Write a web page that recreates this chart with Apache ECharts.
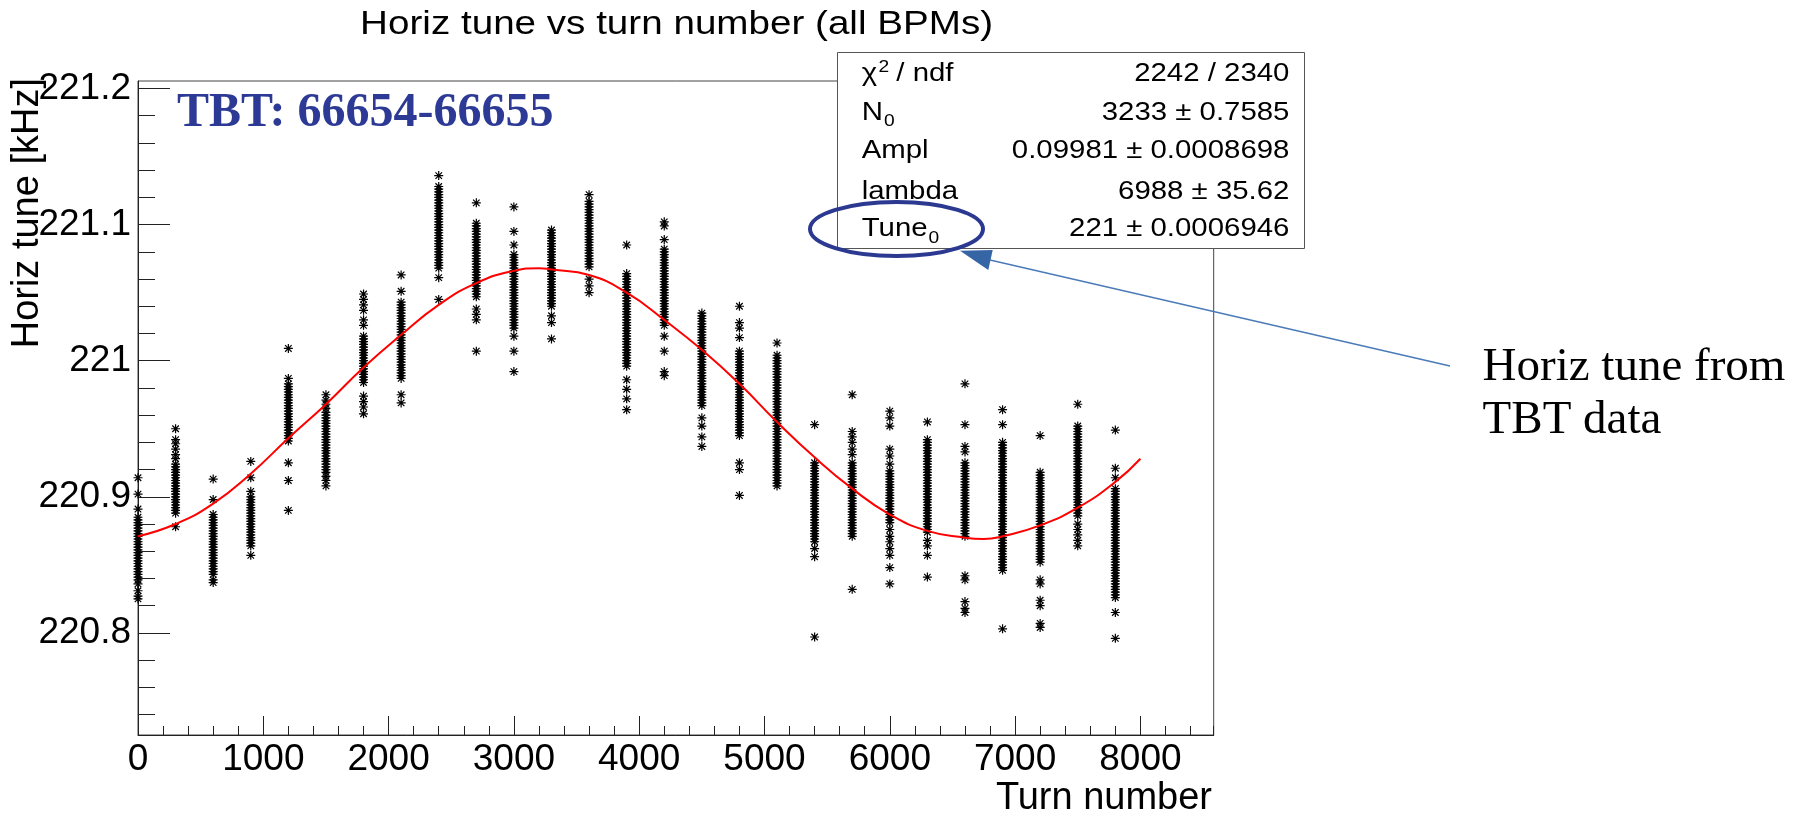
<!DOCTYPE html>
<html>
<head>
<meta charset="utf-8">
<title>Horiz tune vs turn number (all BPMs)</title>
<script src="https://cdn.jsdelivr.net/npm/echarts@6/dist/echarts.min.js"></script>
<style>
  html, body { margin: 0; padding: 0; background: #fff; }
  #chart { width: 1802px; height: 819px; }
</style>
</head>
<body>
<div id="chart"></div>
<script>
// Turn numbers at which the tune was sampled
const groupTurns = [0, 300, 600, 900, 1200, 1500, 1800, 2100, 2400, 2700, 3000, 3300, 3600,
  3900, 4200, 4500, 4800, 5100, 5400, 5700, 6000, 6300, 6600, 6900, 7200, 7500, 7800];

// Horizontal tune [kHz] seen by the BPMs at each sampled turn
const tune0 = [220.914, 220.902, 220.891, 220.885, 220.883, 220.881, 220.879, 220.877, 220.875, 220.873, 220.871, 220.869, 220.867, 220.865, 220.863, 220.861, 220.859, 220.857, 220.855, 220.853, 220.851, 220.849, 220.847, 220.845, 220.843, 220.841, 220.839, 220.836, 220.831, 220.827, 220.825];
const tune300 = [220.950, 220.942, 220.939, 220.935, 220.931, 220.928, 220.924, 220.922, 220.920, 220.918, 220.916, 220.914, 220.912, 220.910, 220.908, 220.906, 220.904, 220.902, 220.900, 220.898, 220.896, 220.894, 220.892, 220.890, 220.888, 220.878];
const tune600 = [220.913, 220.898, 220.887, 220.885, 220.883, 220.881, 220.879, 220.877, 220.875, 220.873, 220.871, 220.869, 220.867, 220.865, 220.863, 220.861, 220.859, 220.857, 220.855, 220.853, 220.851, 220.849, 220.847, 220.845, 220.843, 220.839, 220.837];
const tune900 = [220.926, 220.914, 220.904, 220.900, 220.898, 220.896, 220.894, 220.892, 220.890, 220.888, 220.886, 220.884, 220.882, 220.880, 220.878, 220.876, 220.874, 220.872, 220.870, 220.868, 220.866, 220.864, 220.857];
const tune1200 = [221.009, 220.987, 220.983, 220.981, 220.979, 220.977, 220.975, 220.973, 220.971, 220.969, 220.967, 220.965, 220.963, 220.961, 220.959, 220.957, 220.955, 220.953, 220.951, 220.949, 220.947, 220.945, 220.943, 220.941, 220.925, 220.912, 220.890];
const tune1500 = [220.975, 220.971, 220.968, 220.965, 220.962, 220.960, 220.958, 220.956, 220.954, 220.952, 220.950, 220.948, 220.946, 220.944, 220.942, 220.940, 220.938, 220.936, 220.934, 220.932, 220.930, 220.928, 220.926, 220.924, 220.922, 220.920, 220.918, 220.915, 220.912, 220.908];
const tune1800 = [221.049, 221.045, 221.041, 221.037, 221.030, 221.026, 221.018, 221.016, 221.014, 221.012, 221.010, 221.008, 221.006, 221.004, 221.002, 221.000, 220.998, 220.996, 220.994, 220.992, 220.990, 220.988, 220.986, 220.984, 220.974, 220.970, 220.966, 220.961];
const tune2100 = [221.063, 221.051, 221.043, 221.041, 221.039, 221.037, 221.035, 221.033, 221.031, 221.029, 221.027, 221.025, 221.023, 221.021, 221.019, 221.017, 221.015, 221.013, 221.011, 221.009, 221.007, 221.005, 221.003, 221.001, 220.999, 220.997, 220.995, 220.993, 220.991, 220.989, 220.987, 220.975, 220.969];
const tune2400 = [221.136, 221.128, 221.126, 221.124, 221.122, 221.120, 221.118, 221.116, 221.114, 221.112, 221.110, 221.108, 221.106, 221.104, 221.102, 221.100, 221.098, 221.096, 221.094, 221.092, 221.090, 221.088, 221.086, 221.084, 221.082, 221.080, 221.078, 221.076, 221.074, 221.072, 221.070, 221.068, 221.061, 221.045];
const tune2700 = [221.116, 221.101, 221.099, 221.097, 221.095, 221.093, 221.091, 221.089, 221.087, 221.085, 221.083, 221.081, 221.079, 221.077, 221.075, 221.073, 221.071, 221.069, 221.067, 221.065, 221.063, 221.061, 221.059, 221.057, 221.055, 221.053, 221.051, 221.049, 221.047, 221.038, 221.034, 221.030, 221.007];
const tune3000 = [221.113, 221.095, 221.085, 221.078, 221.076, 221.074, 221.072, 221.070, 221.068, 221.066, 221.064, 221.062, 221.060, 221.058, 221.056, 221.054, 221.052, 221.050, 221.048, 221.046, 221.044, 221.042, 221.040, 221.038, 221.036, 221.034, 221.032, 221.030, 221.028, 221.026, 221.024, 221.018, 221.007, 220.992];
const tune3300 = [221.096, 221.094, 221.092, 221.090, 221.088, 221.086, 221.084, 221.082, 221.080, 221.078, 221.076, 221.074, 221.072, 221.070, 221.068, 221.066, 221.064, 221.062, 221.060, 221.058, 221.056, 221.054, 221.052, 221.050, 221.048, 221.046, 221.044, 221.042, 221.040, 221.033, 221.028, 221.016];
const tune3600 = [221.122, 221.117, 221.115, 221.113, 221.111, 221.109, 221.107, 221.105, 221.103, 221.101, 221.099, 221.097, 221.095, 221.093, 221.091, 221.089, 221.087, 221.085, 221.083, 221.081, 221.079, 221.077, 221.075, 221.073, 221.071, 221.069, 221.060, 221.055, 221.050];
const tune3900 = [221.085, 221.064, 221.062, 221.060, 221.058, 221.056, 221.054, 221.052, 221.050, 221.048, 221.046, 221.044, 221.042, 221.040, 221.038, 221.036, 221.034, 221.032, 221.030, 221.028, 221.026, 221.024, 221.022, 221.020, 221.018, 221.016, 221.014, 221.012, 221.010, 221.008, 221.006, 221.004, 221.002, 221.000, 220.998, 220.996, 220.986, 220.979, 220.972, 220.964];
const tune4200 = [221.102, 221.099, 221.089, 221.082, 221.080, 221.078, 221.076, 221.074, 221.072, 221.070, 221.068, 221.066, 221.064, 221.062, 221.060, 221.058, 221.056, 221.054, 221.052, 221.050, 221.048, 221.046, 221.044, 221.042, 221.040, 221.038, 221.036, 221.034, 221.032, 221.030, 221.028, 221.026, 221.018, 221.007, 220.992, 220.989];
const tune4500 = [221.035, 221.033, 221.031, 221.029, 221.027, 221.025, 221.023, 221.021, 221.019, 221.017, 221.015, 221.013, 221.011, 221.009, 221.007, 221.005, 221.003, 221.001, 220.999, 220.997, 220.995, 220.993, 220.991, 220.989, 220.987, 220.985, 220.983, 220.981, 220.979, 220.977, 220.975, 220.973, 220.971, 220.969, 220.967, 220.958, 220.952, 220.944, 220.937];
const tune4800 = [221.040, 221.028, 221.024, 221.017, 221.007, 221.005, 221.003, 221.001, 220.999, 220.997, 220.995, 220.993, 220.991, 220.989, 220.987, 220.985, 220.983, 220.981, 220.979, 220.977, 220.975, 220.973, 220.971, 220.969, 220.967, 220.965, 220.963, 220.961, 220.959, 220.957, 220.955, 220.953, 220.951, 220.949, 220.947, 220.945, 220.925, 220.920, 220.901];
const tune5100 = [221.013, 221.004, 221.002, 221.000, 220.998, 220.996, 220.994, 220.992, 220.990, 220.988, 220.986, 220.984, 220.982, 220.980, 220.978, 220.976, 220.974, 220.972, 220.970, 220.968, 220.966, 220.964, 220.962, 220.960, 220.958, 220.956, 220.954, 220.952, 220.950, 220.948, 220.946, 220.944, 220.942, 220.940, 220.938, 220.936, 220.934, 220.932, 220.930, 220.928, 220.926, 220.924, 220.922, 220.920, 220.918, 220.916, 220.914, 220.912, 220.910, 220.908];
const tune5400 = [220.953, 220.925, 220.923, 220.921, 220.919, 220.917, 220.915, 220.913, 220.911, 220.909, 220.907, 220.905, 220.903, 220.901, 220.899, 220.897, 220.895, 220.893, 220.891, 220.889, 220.887, 220.885, 220.883, 220.881, 220.879, 220.877, 220.875, 220.873, 220.871, 220.869, 220.867, 220.862, 220.856, 220.797];
const tune5700 = [220.975, 220.948, 220.944, 220.940, 220.935, 220.931, 220.925, 220.923, 220.921, 220.919, 220.917, 220.915, 220.913, 220.911, 220.909, 220.907, 220.905, 220.903, 220.901, 220.899, 220.897, 220.895, 220.893, 220.891, 220.889, 220.887, 220.885, 220.883, 220.881, 220.879, 220.877, 220.875, 220.873, 220.871, 220.832];
const tune6000 = [220.963, 220.958, 220.952, 220.935, 220.930, 220.924, 220.919, 220.917, 220.915, 220.913, 220.911, 220.909, 220.907, 220.905, 220.903, 220.901, 220.899, 220.897, 220.895, 220.893, 220.891, 220.889, 220.887, 220.885, 220.883, 220.881, 220.876, 220.871, 220.867, 220.862, 220.857, 220.848, 220.836];
const tune6300 = [220.955, 220.942, 220.940, 220.938, 220.936, 220.934, 220.932, 220.930, 220.928, 220.926, 220.924, 220.922, 220.920, 220.918, 220.916, 220.914, 220.912, 220.910, 220.908, 220.906, 220.904, 220.902, 220.900, 220.898, 220.896, 220.894, 220.892, 220.890, 220.888, 220.886, 220.884, 220.882, 220.880, 220.878, 220.876, 220.874, 220.868, 220.864, 220.857, 220.841];
const tune6600 = [220.983, 220.953, 220.937, 220.933, 220.925, 220.923, 220.921, 220.919, 220.917, 220.915, 220.913, 220.911, 220.909, 220.907, 220.905, 220.903, 220.901, 220.899, 220.897, 220.895, 220.893, 220.891, 220.889, 220.887, 220.885, 220.883, 220.881, 220.879, 220.877, 220.875, 220.873, 220.871, 220.842, 220.839, 220.823, 220.818, 220.815];
const tune6900 = [220.964, 220.953, 220.940, 220.938, 220.936, 220.934, 220.932, 220.930, 220.928, 220.926, 220.924, 220.922, 220.920, 220.918, 220.916, 220.914, 220.912, 220.910, 220.908, 220.906, 220.904, 220.902, 220.900, 220.898, 220.896, 220.894, 220.892, 220.890, 220.888, 220.886, 220.884, 220.882, 220.880, 220.878, 220.876, 220.874, 220.872, 220.870, 220.868, 220.866, 220.864, 220.862, 220.860, 220.858, 220.856, 220.854, 220.852, 220.850, 220.848, 220.846, 220.803];
const tune7200 = [220.945, 220.918, 220.916, 220.914, 220.912, 220.910, 220.908, 220.906, 220.904, 220.902, 220.900, 220.898, 220.896, 220.894, 220.892, 220.890, 220.888, 220.886, 220.884, 220.882, 220.880, 220.878, 220.876, 220.874, 220.872, 220.870, 220.868, 220.866, 220.864, 220.862, 220.860, 220.858, 220.856, 220.854, 220.852, 220.839, 220.836, 220.824, 220.820, 220.807, 220.804];
const tune7500 = [220.968, 220.952, 220.950, 220.948, 220.946, 220.944, 220.942, 220.940, 220.938, 220.936, 220.934, 220.932, 220.930, 220.928, 220.926, 220.924, 220.922, 220.920, 220.918, 220.916, 220.914, 220.912, 220.910, 220.908, 220.906, 220.904, 220.902, 220.900, 220.898, 220.896, 220.894, 220.892, 220.890, 220.888, 220.886, 220.880, 220.876, 220.872, 220.868, 220.864];
const tune7800 = [220.949, 220.921, 220.914, 220.906, 220.904, 220.902, 220.900, 220.898, 220.896, 220.894, 220.892, 220.890, 220.888, 220.886, 220.884, 220.882, 220.880, 220.878, 220.876, 220.874, 220.872, 220.870, 220.868, 220.866, 220.864, 220.862, 220.860, 220.858, 220.856, 220.854, 220.852, 220.850, 220.848, 220.846, 220.844, 220.842, 220.840, 220.838, 220.836, 220.834, 220.832, 220.830, 220.828, 220.826, 220.815, 220.796];

const groupTunes = [tune0, tune300, tune600, tune900, tune1200, tune1500, tune1800, tune2100,
  tune2400, tune2700, tune3000, tune3300, tune3600, tune3900, tune4200, tune4500, tune4800,
  tune5100, tune5400, tune5700, tune6000, tune6300, tune6600, tune6900, tune7200, tune7500, tune7800];

// Fitted tune oscillation, sampled along the turn axis
const fitTurns = [0, 300, 600, 900, 1200, 1500, 1800, 2100, 2400, 2700, 3000, 3200, 3300, 3600, 3900,
  4200, 4500, 4800, 5100, 5400, 5700, 6000, 6300, 6600, 6750, 6900, 7200, 7500, 7800, 8000];
const fitTune = [220.871, 220.880, 220.895, 220.917, 220.943, 220.968, 220.995, 221.019, 221.041, 221.057,
  221.066, 221.068, 221.067, 221.063, 221.050, 221.030, 221.008, 220.983, 220.955, 220.929, 220.906,
  220.887, 220.875, 220.870, 220.869, 220.871, 220.879, 220.892, 220.911, 220.928];

// Axis ticks
const yLabelValues = [220.8, 220.9, 221, 221.1, 221.2];
const yMinorValues = [220.74, 220.76, 220.78, 220.8, 220.82, 220.84, 220.86, 220.88, 220.9, 220.92, 220.94,
  220.96, 220.98, 221, 221.02, 221.04, 221.06, 221.08, 221.1, 221.12, 221.14, 221.16, 221.18, 221.2];

// Fit statistics panel
const statValues = ['2242 / 2340', '3233 \u00b1 0.7585', '0.09981 \u00b1 0.0008698', '6988 \u00b1 35.62', '221 \u00b1 0.0006946'];

const SANS = "'Liberation Sans', Arial, Helvetica, sans-serif";
const SERIF = "'Liberation Serif', 'Times New Roman', Times, serif";

const points = [];
groupTurns.forEach(function (turn, i) {
  groupTunes[i].forEach(function (v) { points.push([turn, v]); });
});
const fitLine = fitTurns.map(function (t, i) { return [t, fitTune[i]]; });

// Asterisk marker
const STAR = 'path://M0,-4L0,4M-4,0L4,0M-2.9,-2.9L2.9,2.9M-2.9,2.9L2.9,-2.9';

// text width helper for placing sub/superscripts in the stats panel
const measureCtx = document.createElement('canvas').getContext('2d');
function textWidth(t, size) {
  measureCtx.font = size + 'px ' + SANS;
  return measureCtx.measureText(t).width;
}

function label(x, y, text, size, extra) {
  return Object.assign({
    type: 'text', x: x, y: y, z: 120, silent: true,
    style: { text: text, fontFamily: SANS, fontSize: size, fill: '#000', align: 'left', verticalAlign: 'middle' }
  }, extra || {});
}

const statRowsY = [74.3, 112.7, 151, 191.7, 229.3];
const SX = 1.13;
const LX = 861.7;
const chiEnd = LX + textWidth('\u03c7', 26) * SX;
const supEnd = chiEnd + 1.5 + textWidth('2', 17) * SX;
const nEnd = LX + textWidth('N', 26) * SX;
const tuneEnd = LX + textWidth('Tune', 26) * SX;

const graphics = [
  // title
  { type: 'text', x: 676.6, y: 25.2, scaleX: 1.17, silent: true, z: 120,
    style: { text: 'Horiz tune vs turn number (all BPMs)', fontFamily: SANS, fontSize: 33, fill: '#000', align: 'center', verticalAlign: 'middle' } },
  // axis titles
  { type: 'text', x: 27.5, y: 78, rotation: Math.PI / 2, silent: true, z: 120,
    style: { text: 'Horiz tune [kHz]', fontFamily: SANS, fontSize: 38, fill: '#000', align: 'right', verticalAlign: 'middle' } },
  { type: 'text', x: 1212, y: 798.5, silent: true, z: 120,
    style: { text: 'Turn number', fontFamily: SANS, fontSize: 38, fill: '#000', align: 'right', verticalAlign: 'middle' } },
  // statistics box
  { type: 'rect', silent: true, z: 110, shape: { x: 837.5, y: 52.5, width: 467, height: 196 },
    style: { fill: '#fff', stroke: '#555', lineWidth: 1 } },
  label(LX, statRowsY[0], '\u03c7', 26, { scaleX: SX }),
  label(chiEnd + 1.5, 67.6, '2', 17, { scaleX: SX }),
  label(supEnd + 7, statRowsY[0], '/ ndf', 26, { scaleX: SX }),
  label(LX, statRowsY[1], 'N', 26, { scaleX: SX }),
  label(nEnd + 1, 121.4, '0', 17, { scaleX: SX }),
  label(LX, statRowsY[2], 'Ampl', 26, { scaleX: SX }),
  label(LX, statRowsY[3], 'lambda', 26, { scaleX: SX }),
  label(LX, statRowsY[4], 'Tune', 26, { scaleX: SX }),
  label(tuneEnd + 1, 238, '0', 17, { scaleX: SX })
];
statValues.forEach(function (s, i) {
  graphics.push({
    type: 'text', x: 1289.4, y: statRowsY[i], z: 120, silent: true, scaleX: SX,
    style: { text: s, fontFamily: SANS, fontSize: 26, fill: '#000', align: 'right', verticalAlign: 'middle' }
  });
});
graphics.push(
  // run label
  { type: 'text', x: 177, y: 113.8, silent: true, z: 130,
    style: { text: 'TBT: 66654-66655', fontFamily: SERIF, fontSize: 48, fontWeight: 'bold', fill: '#2c3a96', align: 'left', verticalAlign: 'middle' } },
  // highlight around the tune parameter
  { type: 'ellipse', silent: true, z: 130, shape: { cx: 896.5, cy: 229, rx: 86.5, ry: 27 },
    style: { fill: 'none', stroke: '#2b3990', lineWidth: 4 } },
  // callout arrow and note
  { type: 'line', silent: true, z: 130, shape: { x1: 990, y1: 260, x2: 1450, y2: 366 },
    style: { stroke: '#4a7ab8', lineWidth: 1.3 } },
  { type: 'polygon', silent: true, z: 131, shape: { points: [[960, 250.7], [992.7, 250], [988.3, 270]] },
    style: { fill: '#3565a5' } },
  { type: 'text', x: 1482.6, y: 367.4, silent: true, z: 130,
    style: { text: 'Horiz tune from', fontFamily: SERIF, fontSize: 47, fill: '#000', align: 'left', verticalAlign: 'middle' } },
  { type: 'text', x: 1482.6, y: 420.8, silent: true, z: 130,
    style: { text: 'TBT data', fontFamily: SERIF, fontSize: 47, fill: '#000', align: 'left', verticalAlign: 'middle' } }
);

const X_MAX = 8585;
const Y_MIN = 220.725;
const Y_MAX = 221.2055;
const AXIS_COLOR = '#222';

const chart = echarts.init(document.getElementById('chart'), null, { renderer: 'canvas' });
chart.setOption({
  animation: false,
  backgroundColor: '#fff',
  grid: { left: 138, top: 81, right: 588.3, bottom: 84, show: true, borderColor: '#444', borderWidth: 1, backgroundColor: 'transparent' },
  xAxis: [
    { type: 'value', position: 'bottom', min: 0, max: X_MAX, interval: 1000,
      axisLine: { show: true, onZero: false, lineStyle: { color: AXIS_COLOR, width: 1 } },
      axisTick: { show: true, inside: true, length: 19, lineStyle: { color: AXIS_COLOR, width: 1 } },
      axisLabel: { show: true, margin: 6, showMaxLabel: false, fontFamily: SANS, fontSize: 37, color: '#000',
        formatter: function (v) { return String(v); } },
      splitLine: { show: false } },
    { type: 'value', position: 'bottom', min: 0, max: X_MAX, interval: 200,
      axisLine: { show: false, onZero: false },
      axisTick: { show: true, inside: true, length: 9, lineStyle: { color: AXIS_COLOR, width: 1 } },
      axisLabel: { show: false },
      splitLine: { show: false } }
  ],
  yAxis: [
    { type: 'value', position: 'left', min: Y_MIN, max: Y_MAX,
      axisLine: { show: true, onZero: false, lineStyle: { color: AXIS_COLOR, width: 1 } },
      axisTick: { show: true, inside: true, length: 32, customValues: yLabelValues, lineStyle: { color: AXIS_COLOR, width: 1 } },
      axisLabel: { show: true, margin: 7, customValues: yLabelValues, fontFamily: SANS, fontSize: 37, color: '#000' },
      splitLine: { show: false } },
    { type: 'value', position: 'left', min: Y_MIN, max: Y_MAX,
      axisLine: { show: false, onZero: false },
      axisTick: { show: true, inside: true, length: 17, customValues: yMinorValues, lineStyle: { color: AXIS_COLOR, width: 1 } },
      axisLabel: { show: false },
      splitLine: { show: false } }
  ],
  series: [
    { type: 'scatter', xAxisIndex: 0, yAxisIndex: 0, data: points, clip: false, silent: true,
      symbol: STAR, symbolSize: 9, z: 2,
      itemStyle: { color: 'rgba(0,0,0,0)', borderColor: '#000', borderWidth: 1.2, opacity: 1 } },
    { type: 'line', xAxisIndex: 0, yAxisIndex: 0, data: fitLine, smooth: true, showSymbol: false, silent: true, z: 3,
      lineStyle: { color: '#ff0000', width: 2 } }
  ],
  graphic: graphics
});
</script>
</body>
</html>
